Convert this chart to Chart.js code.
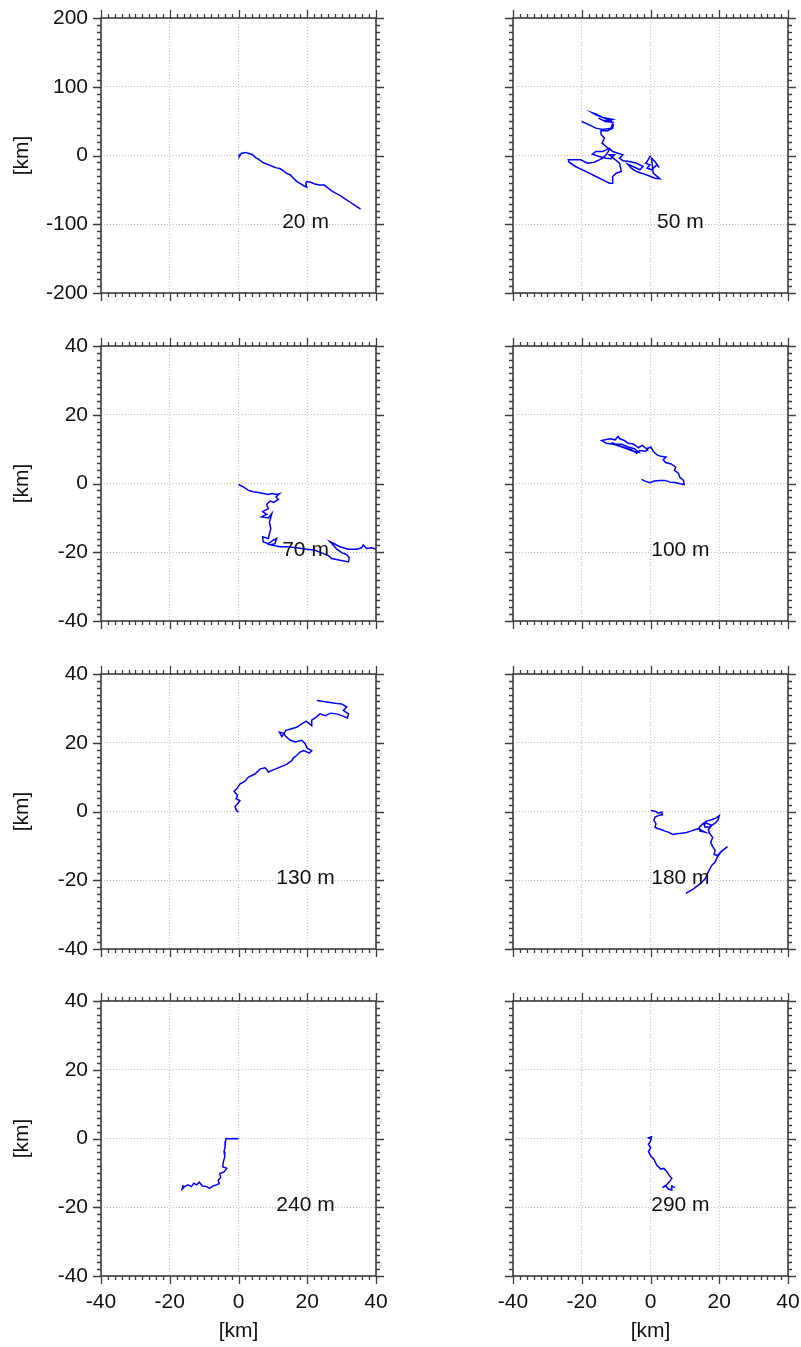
<!DOCTYPE html>
<html>
<head>
<meta charset="utf-8">
<script src="https://cdn.jsdelivr.net/npm/chart.js@4.4.1/dist/chart.umd.min.js"></script>
<style>
  html, body { margin: 0; padding: 0; background: #fff; overflow: hidden; }
  body { width: 801px; height: 1347px; position: relative; }
  canvas { position: absolute; }
</style>
</head>
<body>
<script>
// drifter tracks, displacement from release point in km, one per depth
const depthLabels = ["20 m", "50 m", "70 m", "100 m", "130 m", "180 m", "240 m", "290 m"];

const track20 = [[0.3,2],[0.2,-2],[0.8,3],[2,4.5],[3,3],[4,1.5],[5,-3],[6,-6],[7,-10],[8,-12],[9,-14],
  [10,-16],[11,-18],[12,-19],[13,-22],[14,-26],[15,-28],[16,-33],[17,-38],[18,-41],[19,-44],[19.8,-46],
  [19.6,-41],[19.8,-38],[21,-39],[22,-41],[23.5,-43],[25,-43],[26,-47],[27,-51],[28,-54],[29.5,-58],
  [31,-63],[32.5,-68],[34,-73],[35.5,-78]];

const track50 = [[0,0],[-0.7,-6.3],[-1.4,-11.2],[-0.2,-13.6],[-1.0,-18.4],[0.3,-20.8],[1.8,-13.6],[2.5,-17.5],
  [1.3,-8.7],[0.3,-3.9],[0.8,-25.7],[2.7,-33.9],[1.3,-33.0],[-0.7,-29.1],[-2.6,-25.7],[-4.1,-23.3],
  [-5.6,-18.4],[-6.6,-12.6],[-5.1,-16.0],[-3.1,-20.8],[-2.2,-16.0],[-4.1,-11.2],[-6.1,-8.7],[-8.0,-7.8],
  [-9.0,-3.9],[-8.0,1.0],[-9.5,3.4],[-11.0,5.8],[-12.0,10.7],[-12.9,8.2],[-13.9,5.8],[-15.9,5.8],
  [-16.9,1.9],[-14.9,-1.5],[-12.9,-3.9],[-11.5,-4.8],[-10.5,1.0],[-12.0,1.0],[-9.0,-11.2],[-8.5,-23.3],
  [-10.0,-25.7],[-11.0,-30.5],[-11.0,-40.2],[-12.0,-40.2],[-13.9,-35.4],[-15.9,-30.5],[-17.8,-25.7],
  [-19.8,-20.8],[-21.8,-16.0],[-23.7,-9.7],[-23.9,-6.3],[-22.3,-6.3],[-20.3,-6.3],[-18.3,-11.2],
  [-16.4,-9.7],[-14.9,-6.3],[-13.9,-3.9],[-12.9,1.0],[-12.0,8.2],[-12.9,13.1],[-14.1,17.9],[-13.4,25.2],
  [-14.4,31.0],[-14.4,35.9],[-12.5,35.9],[-11.0,39.8],[-10.8,45.6],[-11.5,50.4],[-12.9,53.3],[-14.4,56.2],
  [-15.9,59.2],[-16.9,62.1],[-15.7,60.1],[-13.9,55.3],[-12.0,53.3],[-11.0,52.4],[-12.5,50.4],[-13.9,51.4],
  [-15.1,54.3],[-13.2,49.5],[-10.9,48.5],[-11.5,39.8],[-13.9,37.8],[-15.9,39.8],[-17.8,44.6],[-20.0,49.5]];

const track70 = [[0,-0.3],[1.4,-1.0],[2.9,-2.0],[4.3,-2.4],[5.8,-2.6],[7.2,-2.9],[8.7,-3.2],[9.7,-2.9],
  [11.1,-3.2],[11.9,-3.0],[10.9,-3.9],[11.6,-4.6],[10.3,-5.5],[9.2,-5.1],[8.2,-6.1],[8.7,-7.3],[7.0,-8.2],
  [8.2,-9.0],[6.7,-9.7],[8.7,-10.0],[9.7,-8.7],[9.0,-11.2],[9.4,-13.1],[9.0,-14.6],[8.7,-16.0],[7.0,-15.5],
  [7.2,-17.0],[8.7,-17.5],[10.1,-16.5],[11.1,-16.0],[10.6,-17.5],[9.2,-17.8],[12.1,-18.4],[14.0,-18.4],
  [16.9,-18.7],[19.8,-19.1],[22.3,-19.4],[24.7,-20.4],[26.1,-20.9],[27.1,-21.8],[29.5,-22.3],[32.0,-22.8],
  [32.2,-21.6],[31.5,-20.7],[30.0,-20.1],[28.6,-19.1],[26.6,-16.9],[29.5,-18.4],[32.0,-19.1],[34.4,-19.1],
  [35.8,-18.7],[36.3,-17.9],[37.3,-18.9],[38.7,-18.7],[40,-19.1]];

const track100 = [[-2.6,1.2],[-1.6,0.7],[-0.2,0.2],[1.1,0.7],[2.8,0.9],[4.2,0.9],[5.7,0.4],[7.1,0.3],
  [8.6,-0.1],[9.8,-0.3],[9.6,0.9],[8.6,1.7],[8.1,3.0],[7.0,3.8],[7.3,4.8],[6.0,5.7],[4.4,6.1],[3.7,6.9],
  [4.5,7.7],[3.0,7.9],[1.8,8.4],[0.8,9.4],[0.1,10.6],[-1.1,10.1],[-2.4,11.1],[-3.5,10.4],[-5.0,11.5],
  [-6.5,11.7],[-7.6,12.5],[-8.9,13.0],[-9.4,13.7],[-10.3,12.7],[-11.8,13.0],[-13.2,12.7],[-14.2,12.5],
  [-12.8,11.7],[-10.8,11.4],[-8.9,10.8],[-6.9,10.1],[-5.0,9.4],[-3.5,9.1],[-4.7,10.1],[-6.5,10.6],
  [-8.4,11.4],[-10.3,11.5],[-11.3,11.9],[-9.4,11.1],[-7.4,10.4],[-5.5,9.8],[-4.0,8.8],[-3.1,9.6],
  [-1.6,9.4],[-0.6,9.8]];

const track130 = [[0,-0.2],[-0.7,0.5],[-1.0,1.5],[-0.3,2.2],[0.4,3.2],[-0.7,3.7],[-0.3,4.7],[-1.3,5.9],
  [-0.5,6.6],[0.4,8.0],[1.9,8.8],[2.9,10.0],[4.8,10.9],[6.3,12.4],[7.8,12.7],[8.7,11.5],[10.1,12.1],
  [12.1,12.9],[14.0,13.7],[15.5,14.8],[16.0,15.6],[16.9,16.3],[17.9,17.3],[18.9,17.7],[20.6,17.0],
  [21.3,17.7],[19.9,18.5],[19.4,19.7],[18.4,20.7],[16.5,20.2],[15.0,20.8],[13.8,21.8],[13.1,22.8],
  [11.9,23.1],[12.6,21.8],[13.8,23.6],[15.2,24.0],[16.9,24.5],[18.4,25.5],[19.7,26.3],[21.3,25.0],
  [21.3,26.6],[22.5,27.4],[23.7,28.4],[25.2,27.9],[26.8,28.6],[28.6,28.4],[30.0,27.9],[31.7,27.2],
  [32.0,28.4],[30.5,29.4],[31.5,30.4],[30.0,31.3],[28.1,31.5],[26.1,31.8],[24.2,32.1],[22.8,32.3]];

const track180 = [[0.15,0.3],[1.3,0.1],[2.3,-0.5],[3.3,-0.2],[3.5,-0.9],[2.3,-1.2],[1.3,-1.6],[1.0,-2.6],
  [1.6,-3.6],[1.3,-4.6],[2.3,-5.0],[3.3,-5.3],[4.2,-5.7],[5.2,-6.0],[6.5,-6.7],[7.6,-6.5],[9.1,-6.3],
  [10.5,-6.1],[11.7,-5.7],[12.9,-5.3],[13.9,-5.0],[14.9,-5.5],[15.9,-6.0],[14.4,-5.7],[14.2,-4.6],
  [15.2,-3.6],[16.3,-2.8],[17.8,-2.4],[19.3,-1.8],[20.0,-1.2],[19.7,-2.4],[18.8,-3.4],[17.3,-4.4],
  [15.9,-4.6],[15.6,-3.8],[16.3,-3.4],[17.8,-4.1],[16.8,-5.3],[17.3,-6.5],[18.1,-7.5],[17.5,-9.0],
  [18.1,-10.2],[18.8,-11.3],[18.5,-12.5],[19.4,-12.8],[21.0,-11.3],[22.4,-10.2],[20.7,-11.5],[19.4,-13.3],
  [18.8,-14.7],[17.8,-15.7],[16.8,-17.6],[15.9,-19.6],[14.5,-21.0],[12.5,-22.5],[10.3,-23.8]];

const track240 = [[0,-0.1],[-1.5,0],[-2.7,-0.1],[-3.6,0],[-3.8,-0.9],[-3.9,-2.4],[-4.2,-3.8],[-4.0,-5.3],
  [-4.4,-6.8],[-4.6,-8.2],[-3.4,-8.7],[-4.2,-9.7],[-5.4,-10.2],[-5.2,-11.4],[-5.9,-12.1],[-5.6,-13.1],
  [-6.4,-13.5],[-7.4,-13.8],[-8.4,-14.5],[-9.3,-14.0],[-10.5,-13.8],[-11.4,-12.7],[-12.2,-13.5],
  [-13.0,-13.0],[-13.7,-14.0],[-14.7,-13.5],[-15.7,-14.0],[-16.4,-14.7],[-16.1,-13.5]];

const track290 = [[0.05,-0.1],[-0.6,0.2],[0.3,0.5],[0.05,-0.7],[-0.6,-1.7],[0.05,-2.7],[-0.6,-3.8],
  [0.05,-5.0],[1.0,-6.0],[1.8,-7.7],[3.0,-8.9],[3.9,-8.7],[4.7,-9.6],[5.5,-10.8],[6.2,-11.6],[5.5,-12.6],
  [4.7,-13.4],[3.5,-14.3],[4.5,-13.8],[5.2,-14.7],[6.2,-15.0],[6.2,-13.8],[7.1,-14.3]];

const tracks = [track20, track50, track70, track100, track130, track180, track240, track290];

// axis ticks
const xTicks = [-40, -20, 0, 20, 40];
const yTicksTop = [-200, -100, 0, 100, 200];
const yTicks = [-40, -20, 0, 20, 40];

// canvas placement: two columns, four rows
const colLeft = [0, 412];
const rowTop = [0, 328, 656, 983];
const FONT = '"Liberation Sans", Arial, Helvetica, sans-serif';

// frame, minor/major tick marks on all four sides and the depth label
const panelFrame = {
  id: 'panelFrame',
  afterDraw(chart, args, opts) {
    const { ctx, chartArea: a, scales: { x, y } } = chart;
    ctx.save();
    ctx.strokeStyle = '#3c3c3c';
    ctx.lineWidth = 1.3;
    ctx.beginPath();
    for (let v = x.min; v <= x.max; v += opts.minorX) {
      const px = Math.round(x.getPixelForValue(v)) + 0.5;
      const len = v % opts.majorX === 0 ? 8 : 4;
      ctx.moveTo(px, a.top); ctx.lineTo(px, a.top - len);
      ctx.moveTo(px, a.bottom); ctx.lineTo(px, a.bottom + len);
    }
    for (let v = y.min; v <= y.max; v += opts.minorY) {
      const py = Math.round(y.getPixelForValue(v)) + 0.5;
      const len = v % opts.majorY === 0 ? 8 : 4;
      ctx.moveTo(a.left, py); ctx.lineTo(a.left - len, py);
      ctx.moveTo(a.right, py); ctx.lineTo(a.right + len, py);
    }
    ctx.stroke();
    ctx.lineWidth = 1.6;
    ctx.strokeRect(a.left, a.top, a.right - a.left, a.bottom - a.top);

    ctx.font = '21px ' + FONT;
    ctx.fillStyle = '#111';
    ctx.textAlign = 'center';
    ctx.textBaseline = 'middle';
    ctx.fillText(opts.label, x.getPixelForValue(opts.at[0]), y.getPixelForValue(opts.at[1]));
    ctx.restore();
  }
};

// keep edge labels from shrinking the plot area; layout padding handles the margins
function noEdgePadding(s) {
  s.paddingLeft = 0; s.paddingRight = 0; s.paddingTop = 0; s.paddingBottom = 0;
}

function makePanel(i) {
  const col = i % 2;
  const row = Math.floor(i / 2);
  const last = row === 3;
  const canvas = document.createElement('canvas');
  canvas.width = 392;
  canvas.height = last ? 364 : 310;
  canvas.style.left = colLeft[col] + 'px';
  canvas.style.top = rowTop[row] + 'px';
  document.body.appendChild(canvas);

  const yt = row === 0 ? yTicksTop : yTicks;
  const ySpan = yt[yt.length - 1];

  new Chart(canvas, {
    type: 'scatter',
    data: {
      datasets: [{
        data: tracks[i].map(([x, y]) => ({ x, y })),
        showLine: true,
        borderColor: '#0000ff',
        borderWidth: 1.5,
        pointRadius: 0,
        tension: 0
      }]
    },
    options: {
      responsive: false,
      animation: false,
      devicePixelRatio: 1,
      layout: { padding: { left: 0, right: 16, top: 18, bottom: last ? 3 : 0 } },
      plugins: {
        legend: { display: false },
        tooltip: { enabled: false },
        panelFrame: {
          label: depthLabels[i],
          at: [col === 0 ? 19.5 : 8.7, row === 0 ? -97 : -19.5],
          minorX: 2, majorX: 20,
          minorY: row === 0 ? 10 : 2, majorY: row === 0 ? 100 : 20
        }
      },
      scales: {
        x: {
          type: 'linear',
          min: xTicks[0], max: xTicks[xTicks.length - 1],
          afterBuildTicks: s => { s.ticks = xTicks.map(v => ({ value: v })); },
          afterFit: s => { s.height = last ? 68 : 17; noEdgePadding(s); },
          grid: { color: '#c4c4c4', lineWidth: 1, drawTicks: false },
          border: { display: false, dash: [1, 2] },
          ticks: { display: last, padding: 14, color: '#111', font: { family: FONT, size: 21 } },
          title: { display: last, text: '[km]', color: '#111', font: { family: FONT, size: 21 }, padding: { top: 0, bottom: 0 } }
        },
        y: {
          type: 'linear',
          min: -ySpan, max: ySpan,
          afterBuildTicks: s => { s.ticks = yt.map(v => ({ value: v })); },
          afterFit: s => { s.width = 101; noEdgePadding(s); },
          grid: { color: '#c4c4c4', lineWidth: 1, drawTicks: false },
          border: { display: false, dash: [1, 2] },
          ticks: { display: col === 0, padding: 13, color: '#111', font: { family: FONT, size: 21 } },
          title: { display: col === 0, text: '[km]', color: '#111', font: { family: FONT, size: 21 }, padding: { top: 10, bottom: 0 } }
        }
      }
    },
    plugins: [panelFrame]
  });
}

for (let i = 0; i < tracks.length; i++) makePanel(i);
</script>
</body>
</html>
